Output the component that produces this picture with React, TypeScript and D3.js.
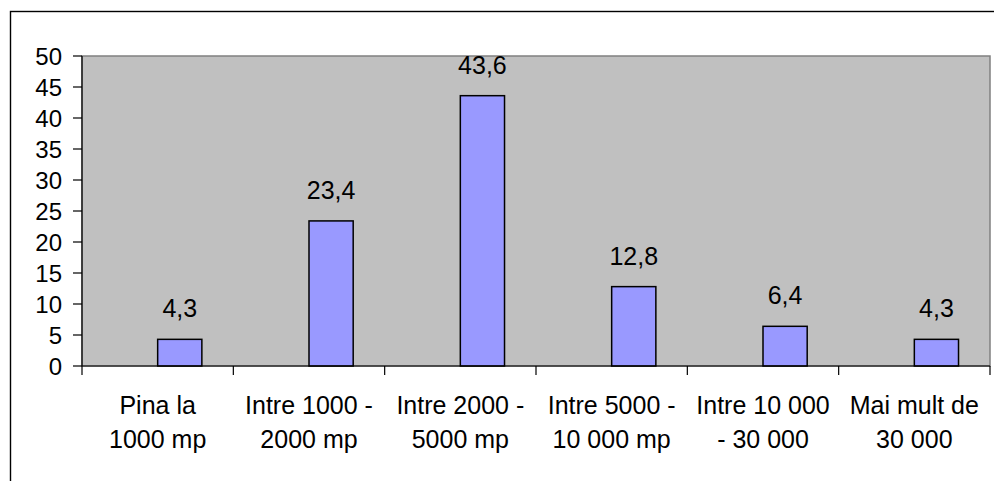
import React from "react";
import * as d3 from "d3";

const categories = ["Pina la|1000 mp", "Intre 1000 -|2000 mp", "Intre 2000 -|5000 mp", "Intre 5000 -|10 000 mp", "Intre 10 000|- 30 000", "Mai mult de|30 000"];
const values = [4.3, 23.4, 43.6, 12.8, 6.4, 4.3];
const yTicks = [0, 5, 10, 15, 20, 25, 30, 35, 40, 45, 50];

const W = 994, H = 481;
const plot = { left: 82, right: 990, top: 56, bottom: 366 };
const FONT = "'Liberation Sans', Arial, sans-serif";

export default function App() {
  const x = d3.scaleBand<string>().domain(categories).range([plot.left, plot.right]).padding(0);
  const y = d3.scaleLinear().domain([0, 50]).range([plot.bottom, plot.top]);
  const bw = x.bandwidth();
  const barW = bw * 0.292;
  const fmt = (v: number) => v.toFixed(1).replace(".", ",");
  return (
    <svg width={W} height={H} style={{ position: "absolute", left: 0, top: 0 }} fontFamily={FONT}>
      <rect x={0} y={0} width={W} height={H} fill="#fff" />
      <rect x={10.5} y={11.5} width={1000} height={500} fill="none" stroke="#000" strokeWidth={1.4} />
      <rect x={plot.left} y={plot.top} width={plot.right - plot.left} height={plot.bottom - plot.top} fill="#C0C0C0" stroke="#808080" strokeWidth={1.5} />
      {categories.map((c, i) => {
        const x0 = (x(c) as number) + bw / 2;
        const top = y(values[i]);
        return (
          <g key={c}>
            <rect x={x0} y={top} width={barW} height={y(0) - top} fill="#9999FF" stroke="#000" strokeWidth={1.5} />
            <text x={x0 + barW / 2} y={top - 22} textAnchor="middle" fontSize={25} fill="#000">{fmt(values[i])}</text>
          </g>
        );
      })}
      {/* y axis */}
      <line x1={plot.left} x2={plot.left} y1={plot.top} y2={plot.bottom} stroke="#000" strokeWidth={1.2} />
      {yTicks.map((t) => (
        <g key={t}>
          <line x1={plot.left - 9} x2={plot.left} y1={y(t)} y2={y(t)} stroke="#000" strokeWidth={1.2} />
          <text x={62} y={y(t) + 8.5} textAnchor="end" fontSize={24} fill="#000">{t}</text>
        </g>
      ))}
      {/* x axis */}
      <line x1={plot.left} x2={plot.right} y1={plot.bottom} y2={plot.bottom} stroke="#000" strokeWidth={1.2} />
      {categories.map((c, i) => (
        <line key={"t" + i} x1={(x(c) as number) + bw} x2={(x(c) as number) + bw} y1={plot.bottom} y2={plot.bottom + 9} stroke="#000" strokeWidth={1.2} />
      ))}
      <line x1={plot.left} x2={plot.left} y1={plot.bottom} y2={plot.bottom + 9} stroke="#000" strokeWidth={1.2} />
      {categories.map((c) => {
        const cx = (x(c) as number) + bw / 2;
        const lines = c.split("|");
        return (
          <text key={"l" + c} x={cx} textAnchor="middle" fontSize={25} fill="#000">
            <tspan x={cx} y={414}>{lines[0]}</tspan>
            <tspan x={cx} y={448}>{lines[1]}</tspan>
          </text>
        );
      })}
    </svg>
  );
}
